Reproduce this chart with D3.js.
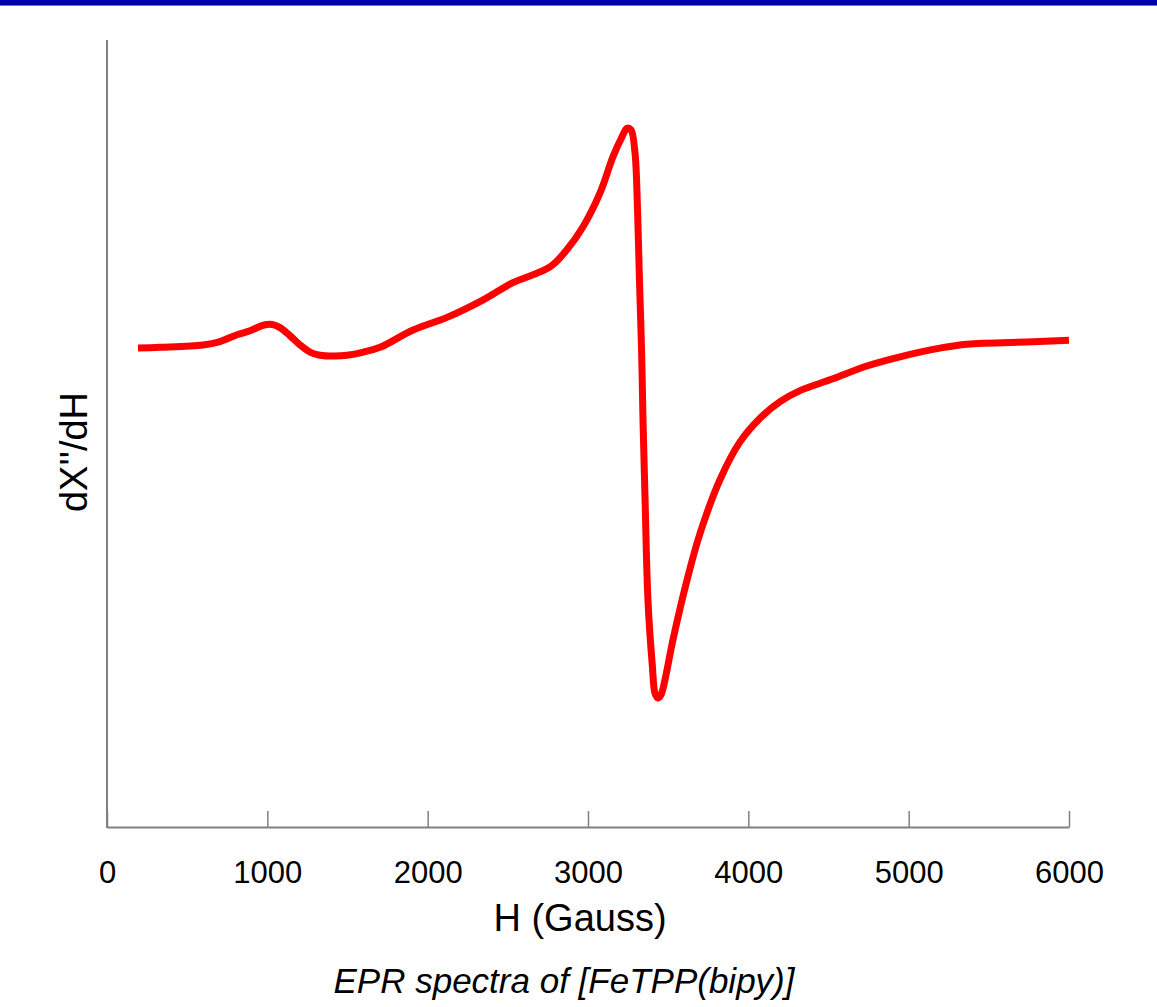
<!DOCTYPE html>
<html>
<head>
<meta charset="utf-8">
<script src="https://cdn.jsdelivr.net/npm/d3@7"></script>
<style>
  body { margin: 0; background: #fff; }
  svg { display: block; font-family: "Liberation Sans", Arial, sans-serif; }
</style>
</head>
<body>
<svg id="chart" width="1157" height="1007"></svg>
<script>
// field values (Gauss) and signal (arbitrary units)
var fieldH = [193, 331, 599, 700, 811, 892, 973, 1030, 1079, 1140, 1204, 1266, 1328, 1420, 1497, 1600, 1703,
  1909, 2121, 2326, 2532, 2763, 2869, 2969, 3075, 3156, 3212, 3243, 3268, 3293, 3309, 3321, 3334,
  3343, 3356, 3374, 3402, 3418, 3437, 3455, 3480, 3530, 3618, 3699, 3823, 3948, 4073, 4198, 4322,
  4528, 4734, 4946, 5195, 5364, 5776, 6000];
var signal = [60.9, 61.0, 61.3, 61.7, 62.6, 63.1, 63.8, 63.9, 63.5, 62.5, 61.3, 60.4, 60.0, 59.9, 60.0, 60.4, 61.0,
  63.2, 64.8, 66.8, 69.2, 71.2, 73.4, 76.3, 80.6, 85.2, 87.7, 88.8, 88.6, 85.7, 78.4, 69.5, 60.7,
  51.8, 41.6, 28.9, 20.4, 17.1, 16.5, 16.9, 18.8, 23.9, 31.5, 37.4, 44.2, 49.0, 52.0, 54.1, 55.5,
  57.0, 58.6, 59.8, 60.9, 61.4, 61.7, 61.9];
var xTicks = [0, 1000, 2000, 3000, 4000, 5000, 6000];

var svg = d3.select("#chart");

// blue banner on top
svg.append("rect").attr("x", 0).attr("y", 0).attr("width", 1157).attr("height", 5).attr("fill", "#0000a8");
svg.append("rect").attr("x", 0).attr("y", 5).attr("width", 1157).attr("height", 1).attr("fill", "#7070d8");

var x = d3.scaleLinear().domain([0, 6000]).range([107, 1069]);
var y = d3.scaleLinear().domain([0, 100]).range([828, 40]);

// x axis, ticks pointing inward
var xAxis = svg.append("g")
    .attr("transform", "translate(0,827)")
    .call(d3.axisBottom(x).tickValues(xTicks).tickSizeInner(-16).tickSizeOuter(0).tickFormat(d3.format("d")));
xAxis.select(".domain").attr("stroke", "#808080").attr("stroke-width", 2);
xAxis.selectAll(".tick line").attr("stroke", "#808080").attr("stroke-width", 1.5);
xAxis.selectAll(".tick text")
    .attr("y", 56).attr("dy", 0)
    .attr("font-size", 31).attr("fill", "#000")
    .attr("font-family", "Liberation Sans, Arial, sans-serif");

// y axis: plain line, no ticks
svg.append("line")
    .attr("x1", 107).attr("x2", 107)
    .attr("y1", 40).attr("y2", 828)
    .attr("stroke", "#808080").attr("stroke-width", 2);

// spectrum
var line = d3.line()
    .x(function(d, i){ return x(fieldH[i]); })
    .y(function(d){ return y(d); })
    .curve(d3.curveCatmullRom.alpha(0.5));

svg.append("path")
    .datum(signal)
    .attr("d", line)
    .attr("fill", "none")
    .attr("stroke", "#ff0000")
    .attr("stroke-width", 7)
    .attr("stroke-linejoin", "round")
    .attr("stroke-linecap", "butt");

// axis titles
svg.append("text")
    .attr("x", 580).attr("y", 931)
    .attr("text-anchor", "middle")
    .attr("font-size", 38)
    .text("H (Gauss)");

svg.append("text")
    .attr("transform", "translate(87,452) rotate(-90)")
    .attr("text-anchor", "middle")
    .attr("font-size", 38)
    .text("dX''/dH");

// caption
svg.append("text")
    .attr("x", 564).attr("y", 993)
    .attr("text-anchor", "middle")
    .attr("font-size", 35)
    .attr("font-style", "italic")
    .text("EPR spectra of [FeTPP(bipy)]");
</script>
</body>
</html>
